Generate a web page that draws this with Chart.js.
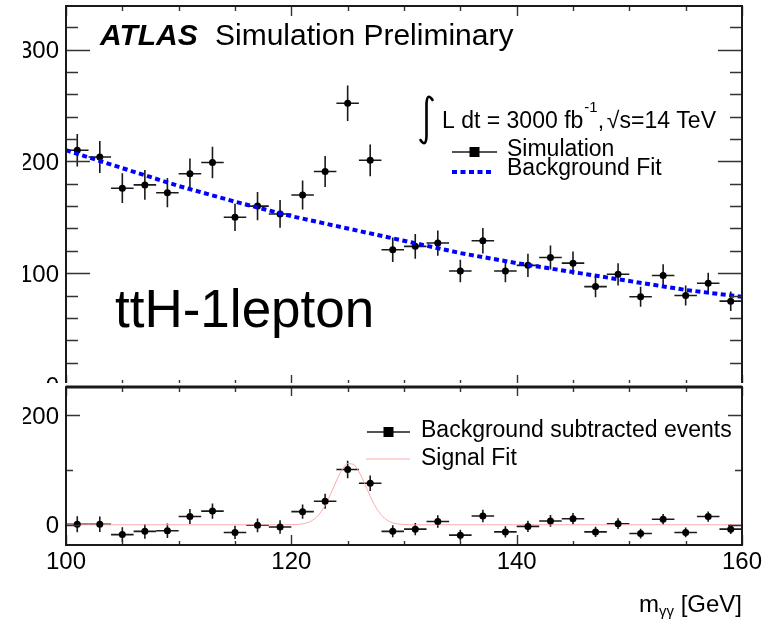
<!DOCTYPE html>
<html>
<head>
<meta charset="utf-8">
<script src="https://cdn.jsdelivr.net/npm/chart.js@4"></script>
<style>
	body { margin: 0; background: #fff; }
	#wrap { position: relative; width: 773px; height: 620px; overflow: hidden; }
	canvas { position: absolute; left: 0; }
	#topPad { top: 0; }
	#bottomPad { top: 383px; }
</style>
</head>
<body>
<div id="wrap">
	<canvas id="topPad" width="773" height="392"></canvas>
	<canvas id="bottomPad" width="773" height="237"></canvas>
</div>
<script>
// bin centres of the diphoton mass histogram (GeV)
const binCentres = [101, 103, 105, 107, 109, 111, 113, 115, 117, 119, 121, 123, 125, 127, 129,
	131, 133, 135, 137, 139, 141, 143, 145, 147, 149, 151, 153, 155, 157, 159];
const simCounts = [210, 204, 176, 179, 172, 189, 199, 150, 160, 153, 170, 191, 252, 201, 121,
	124, 127, 102, 129, 102, 107, 114, 109, 88, 99, 79, 98, 80, 91, 75];
const simErrors = [14.5, 14.3, 13.3, 13.4, 13.1, 13.7, 14.1, 12.2, 12.6, 12.4, 13.0, 13.8, 15.9, 14.2, 11.0,
	11.1, 11.3, 10.1, 11.4, 10.1, 10.3, 10.7, 10.4, 9.4, 9.9, 8.9, 9.9, 8.9, 9.5, 8.7];
const subtractedCounts = [1, 1, -18, -12, -11, 15, 25, -14, -1, -4, 24, 43, 101, 76, -12,
	-8, 6, -19, 16, -13, -3, 7, 11, -13, 2, -16, 10, -14, 15, -8];

// fitted curves
const bkgFitMass = [100, 105, 110, 115, 120, 125, 130, 135, 140, 145, 150, 155, 160];
const bkgFitCounts = [210, 194, 178, 164, 151, 140, 129, 118, 109, 101, 93, 85, 79];
const sigFitMass = [100, 119, 119.5, 120, 120.5, 121, 121.5, 122, 122.5, 123, 123.5, 124, 124.5, 125,
	125.5, 126, 126.5, 127, 127.5, 128, 128.5, 129, 129.5, 130, 130.5, 131, 160];
const sigFitCounts = [0, 0, 0, 0.2, 0.6, 1.7, 4.3, 9.9, 19.9, 35.7, 56.8, 80.2, 100.6, 111.9,
	110.6, 97, 75.6, 52.3, 32.1, 17.5, 8.5, 3.6, 1.4, 0.5, 0.1, 0, 0];

const topYTicks = [0, 100, 200, 300];
const bottomYTicks = [0, 200];
const massTicks = [100, 120, 140, 160];

const FONT = '"Liberation Sans", Arial, Helvetica, sans-serif';
const INK = '#1a1a1a';

function points(xs, ys) {
	return xs.map((x, i) => ({ x: x, y: ys[i] }));
}

const errorBars = {
	id: 'errorBars',
	beforeDatasetsDraw(chart) {
		const { ctx, chartArea: a, scales: { x, y } } = chart;
		ctx.save();
		ctx.beginPath();
		ctx.rect(a.left, a.top, a.width, a.height);
		ctx.clip();
		ctx.strokeStyle = INK;
		ctx.lineWidth = 1.6;
		chart.data.datasets.forEach(ds => {
			if (!ds.errors) return;
			ds.data.forEach((p, i) => {
				const px = x.getPixelForValue(p.x);
				const py = y.getPixelForValue(p.y);
				ctx.beginPath();
				ctx.moveTo(x.getPixelForValue(p.x - 1), py);
				ctx.lineTo(x.getPixelForValue(p.x + 1), py);
				ctx.moveTo(px, y.getPixelForValue(p.y - ds.errors[i]));
				ctx.lineTo(px, y.getPixelForValue(p.y + ds.errors[i]));
				ctx.stroke();
			});
		});
		ctx.restore();
	}
};

// ROOT style frame: ticks inside on all four sides
function framePlugin(o) {
	return {
		id: 'frame',
		beforeDraw(chart) {
			const ctx = chart.ctx;
			ctx.save();
			ctx.fillStyle = '#fff';
			ctx.fillRect(0, 0, chart.width, chart.height);
			ctx.restore();
		},
		afterDraw(chart) {
			const { ctx, chartArea: a, scales: { x, y } } = chart;
			ctx.save();
			ctx.strokeStyle = '#333';
			ctx.lineWidth = 1.4;
			ctx.beginPath();
			for (let v = Math.ceil(y.min / o.yMinor) * o.yMinor; v <= y.max; v += o.yMinor) {
				const py = Math.round(y.getPixelForValue(v)) + 0.5;
				const len = (v % o.yMajor === 0) ? o.yMajorLen : o.yMinorLen;
				ctx.moveTo(a.left, py); ctx.lineTo(a.left + len, py);
				ctx.moveTo(a.right, py); ctx.lineTo(a.right - len, py);
			}
			for (let v = x.min; v <= x.max; v += 5) {
				const px = Math.round(x.getPixelForValue(v)) + 0.5;
				const major = v % 20 === 0;
				const lb = major ? o.xMajorLen : o.xMinorLen;
				const lt = major ? o.xTopMajorLen : o.xTopMinorLen;
				ctx.moveTo(px, a.bottom); ctx.lineTo(px, a.bottom - lb);
				ctx.moveTo(px, a.top); ctx.lineTo(px, a.top + lt);
			}
			ctx.stroke();

			ctx.strokeStyle = INK;
			ctx.lineWidth = 2;
			ctx.strokeRect(a.left, a.top, a.width, a.height);
			if (o.thickTop) {
				ctx.lineWidth = 3;
				ctx.beginPath();
				ctx.moveTo(a.left, a.top); ctx.lineTo(a.right, a.top);
				ctx.stroke();
			}

			ctx.fillStyle = '#000';
			ctx.font = `24px ${FONT}`;
			ctx.textAlign = 'right';
			o.yLabels.forEach(v => {
				ctx.fillText(String(v), a.left - 7, y.getPixelForValue(v) + 8.5);
			});
			if (o.xLabels) {
				ctx.textAlign = 'center';
				o.xLabels.forEach(v => {
					ctx.fillText(String(v), x.getPixelForValue(v), a.bottom + 24);
				});
			}
			// the original figure is cropped at the left
			ctx.fillStyle = '#fff';
			ctx.fillRect(0, 0, 23, chart.height);
			ctx.restore();
		}
	};
}

function legendEntry(ctx, kind, x0, x1, ly, text, tx, ty) {
	ctx.save();
	if (kind === 'marker') {
		ctx.strokeStyle = INK;
		ctx.lineWidth = 1.6;
		ctx.beginPath(); ctx.moveTo(x0, ly); ctx.lineTo(x1, ly); ctx.stroke();
		ctx.fillStyle = '#000';
		const cx = (x0 + x1) / 2;
		ctx.fillRect(cx - 5, ly - 5, 10, 10);
	} else {
		ctx.strokeStyle = kind.color;
		ctx.lineWidth = kind.width;
		ctx.setLineDash(kind.dash || []);
		ctx.beginPath(); ctx.moveTo(x0, ly); ctx.lineTo(x1, ly); ctx.stroke();
	}
	ctx.fillStyle = '#000';
	ctx.font = `23px ${FONT}`;
	ctx.textAlign = 'left';
	ctx.fillText(text, tx, ty);
	ctx.restore();
}

const topLabels = {
	id: 'topLabels',
	afterDraw(chart) {
		const ctx = chart.ctx;
		ctx.save();
		ctx.fillStyle = '#000';
		ctx.textAlign = 'left';
		ctx.font = `italic bold 30px ${FONT}`;
		ctx.fillText('ATLAS', 100, 45);
		ctx.font = `30px ${FONT}`;
		ctx.fillText('Simulation Preliminary', 215, 45);

		ctx.font = `53px ${FONT}`;
		ctx.fillText('ttH-1lepton', 115, 327);

		// integral sign
		ctx.strokeStyle = '#000';
		ctx.lineWidth = 2.6;
		ctx.lineCap = 'round';
		ctx.beginPath();
		ctx.moveTo(432.5, 100);
		ctx.quadraticCurveTo(427, 92, 426.5, 104);
		ctx.lineTo(426.5, 136);
		ctx.quadraticCurveTo(426, 148, 420.5, 140);
		ctx.stroke();

		let x = 442;
		ctx.font = `23px ${FONT}`;
		ctx.fillText('L dt = 3000 fb', x, 128);
		x += ctx.measureText('L dt = 3000 fb').width + 1;
		ctx.font = `15px ${FONT}`;
		ctx.fillText('-1', x, 112);
		x += ctx.measureText('-1').width;
		ctx.font = `23px ${FONT}`;
		ctx.fillText(', ', x, 128);
		ctx.textAlign = 'right';
		ctx.fillText('\u221As=14 TeV', 716, 128);
		ctx.restore();

		legendEntry(ctx, 'marker', 452, 497, 152, 'Simulation', 507, 156);
		legendEntry(ctx, { color: '#0000ff', width: 4, dash: [5, 3.5] }, 452, 494, 172, 'Background Fit', 507, 175);
	}
};

const bottomLabels = {
	id: 'bottomLabels',
	afterDraw(chart) {
		const ctx = chart.ctx;
		const off = 383;
		legendEntry(ctx, 'marker', 367, 410, 432 - off, 'Background subtracted events', 421, 437 - off);
		legendEntry(ctx, { color: '#ffaaaa', width: 1 }, 366, 410, 459 - off, 'Signal Fit', 421, 465 - off);

		// axis title m_γγ [GeV], right aligned to the frame
		ctx.save();
		ctx.fillStyle = '#000';
		ctx.textAlign = 'left';
		const base = 612 - off;
		ctx.font = `24px ${FONT}`;
		const wm = ctx.measureText('m').width;
		const wr = ctx.measureText(' [GeV]').width;
		ctx.font = `15px ${FONT}`;
		const ws = ctx.measureText('\u03B3\u03B3').width;
		let x = chart.chartArea.right - (wm + ws + wr);
		ctx.font = `24px ${FONT}`;
		ctx.fillText('m', x, base);
		ctx.font = `15px ${FONT}`;
		ctx.fillText('\u03B3\u03B3', x + wm, base + 4);
		ctx.font = `24px ${FONT}`;
		ctx.fillText(' [GeV]', x + wm + ws, base);
		ctx.restore();
	}
};

const commonOptions = (padding, yMin, yMax) => ({
	responsive: false,
	animation: false,
	events: [],
	layout: { padding: padding },
	scales: {
		x: { type: 'linear', min: 100, max: 160, display: false },
		y: { type: 'linear', min: yMin, max: yMax, display: false }
	},
	plugins: { legend: { display: false }, tooltip: { enabled: false } }
});

new Chart(document.getElementById('topPad'), {
	type: 'scatter',
	data: {
		datasets: [
			{
				label: 'Background Fit',
				data: points(bkgFitMass, bkgFitCounts),
				showLine: true,
				borderColor: '#0000ff',
				borderWidth: 4,
				borderDash: [5, 3.5],
				pointRadius: 0,
				tension: 0,
				fill: false
			},
			{
				label: 'Simulation',
				data: points(binCentres, simCounts),
				errors: simErrors,
				showLine: false,
				pointRadius: 3.5,
				pointBackgroundColor: '#000',
				pointBorderWidth: 0
			}
		]
	},
	options: commonOptions({ left: 66, right: 31, top: 6, bottom: 7 }, 0, 339),
	plugins: [
		errorBars,
		framePlugin({
			yMajor: 100, yMinor: 20, yMajorLen: 24, yMinorLen: 12,
			xMajorLen: 10, xMinorLen: 5, xTopMajorLen: 10, xTopMinorLen: 5,
			yLabels: topYTicks
		}),
		topLabels
	]
});

new Chart(document.getElementById('bottomPad'), {
	type: 'scatter',
	data: {
		datasets: [
			{
				label: 'Background subtracted events',
				data: points(binCentres, subtractedCounts),
				errors: simErrors,
				showLine: false,
				pointRadius: 3.5,
				pointBackgroundColor: '#000',
				pointBorderWidth: 0
			},
			{
				label: 'Signal Fit',
				data: points(sigFitMass, sigFitCounts),
				showLine: true,
				borderColor: '#ffaaaa',
				borderWidth: 1,
				pointRadius: 0,
				cubicInterpolationMode: 'monotone',
				fill: false
			}
		]
	},
	options: commonOptions({ left: 66, right: 31, top: 2, bottom: 75 }, -37, 252),
	plugins: [
		errorBars,
		framePlugin({
			yMajor: 200, yMinor: 100, yMajorLen: 14, yMinorLen: 7,
			xMajorLen: 10, xMinorLen: 4, xTopMajorLen: 9, xTopMinorLen: 5,
			yLabels: bottomYTicks, xLabels: massTicks, thickTop: true
		}),
		bottomLabels
	]
});
</script>
</body>
</html>
